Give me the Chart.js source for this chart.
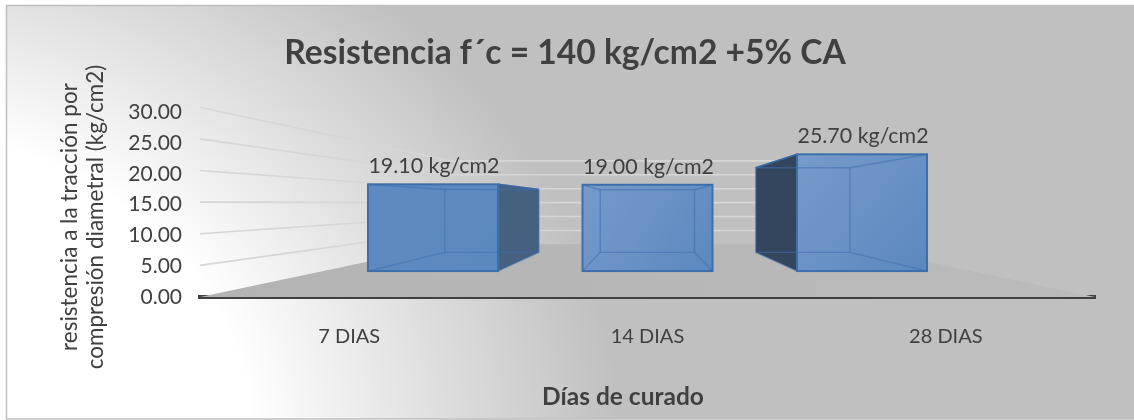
<!DOCTYPE html>
<html>
<head>
<meta charset="utf-8">
<title>Resistencia f´c = 140 kg/cm2 +5% CA</title>
<script src="https://cdn.jsdelivr.net/npm/chart.js@4"></script>
<style>
    html, body { margin: 0; padding: 0; background: #ffffff; }
    #wrap { width: 1134px; height: 420px; position: relative; }
</style>
</head>
<body>
<div id="wrap"><canvas id="migrafica"></canvas></div>
<script>
const categories = ["7 DIAS", "14 DIAS", "28 DIAS"];
const resistencia = [19.10, 19.00, 25.70];
const yTicks = [0, 5, 10, 15, 20, 25, 30];

const titulo = "Resistencia f´c = 140 kg/cm2 +5% CA";
const tituloY = ["resistencia a la tracción por", "compresión diametral (kg/cm2)"];
const tituloX = "Días de curado";
const unidad = " kg/cm2";

const FUENTE = "Lato";
const TEXTO = "#404040";

// punto de fuga y profundidades de la vista 3D
const fuga = { x: 647, y: 203 };
const fondoBarra = 0.725;
const fondoPared = 0.44;

function proyectar(x, y, s) {
    return { x: fuga.x + (x - fuga.x) * s, y: fuga.y + (y - fuga.y) * s };
}

function poligono(ctx, puntos, relleno) {
    ctx.beginPath();
    puntos.forEach(function (p, i) {
        if (i === 0) ctx.moveTo(p.x, p.y); else ctx.lineTo(p.x, p.y);
    });
    ctx.closePath();
    ctx.fillStyle = relleno;
    ctx.fill();
}

function linea(ctx, a, b) {
    ctx.beginPath();
    ctx.moveTo(a.x, a.y);
    ctx.lineTo(b.x, b.y);
    ctx.stroke();
}

// fondo degradado, piso, lineas de la pared y titulos de los ejes
const escena = {
    id: "escena",
    beforeDraw: function (chart) {
        const ctx = chart.ctx;
        const w = chart.width, h = chart.height;
        ctx.save();
        ctx.fillStyle = "#ffffff";
        ctx.fillRect(0, 0, w, h);

        ctx.beginPath();
        ctx.rect(7, 6, w - 7, h - 7);
        ctx.clip();
        ctx.translate(-150, 440);
        ctx.scale(770, 610);
        const g = ctx.createRadialGradient(0, 0, 0, 0, 0, 1);
        g.addColorStop(0, "#ffffff");
        g.addColorStop(0.52, "#ffffff");
        g.addColorStop(1, "#c0c0c0");
        ctx.fillStyle = g;
        ctx.fillRect(0, -1, 2, 1.1);
        ctx.restore();

        ctx.save();
        ctx.strokeStyle = "#bfbfbf";
        ctx.lineWidth = 1.5;
        ctx.beginPath();
        ctx.moveTo(w, 5.5);
        ctx.lineTo(6.5, 5.5);
        ctx.lineTo(6.5, 419);
        ctx.lineTo(w, 419);
        ctx.stroke();
        ctx.restore();
    },
    beforeDatasetsDraw: function (chart) {
        const ctx = chart.ctx;
        const area = chart.chartArea;
        const pared = chart.scales.yPared;

        ctx.save();
        const pisoA = { x: area.left, y: area.bottom };
        const pisoB = { x: area.right, y: area.bottom };
        const piso = ctx.createLinearGradient(area.left, 0, area.right, 0);
        piso.addColorStop(0, "#b3b3b3");
        piso.addColorStop(1, "#bbbbbb");
        poligono(ctx, [pisoA, proyectar(pisoA.x, pisoA.y, fondoPared), proyectar(pisoB.x, pisoB.y, fondoPared), pisoB], piso);

        ctx.strokeStyle = "#d6d6d6";
        ctx.lineWidth = 1.6;
        yTicks.forEach(function (v) {
            if (v === 0) return;
            const a = { x: area.left, y: pared.getPixelForValue(v) };
            const b = proyectar(a.x, a.y, fondoPared);
            const c = proyectar(area.right, a.y, fondoPared);
            linea(ctx, a, b);
            linea(ctx, b, c);
        });

        // caras laterales que asoman fuera del frente de cada barra
        chart.getDatasetMeta(0).data.forEach(function (bar) {
            const mitad = bar.width / 2;
            const i = { x: bar.x - mitad, y: bar.y };
            const d = { x: bar.x + mitad, y: bar.y };
            const ib = { x: bar.x - mitad, y: bar.base };
            const db = { x: bar.x + mitad, y: bar.base };
            const fi = proyectar(i.x, i.y, fondoBarra), fib = proyectar(ib.x, ib.y, fondoBarra);
            const fd = proyectar(d.x, d.y, fondoBarra), fdb = proyectar(db.x, db.y, fondoBarra);
            if (fi.x < i.x) {
                poligono(ctx, [i, fi, fib, ib], "#33465e");
                ctx.strokeStyle = "#2f6099";
                ctx.lineWidth = 1.5;
                linea(ctx, i, fi);
            }
            if (fd.x > d.x) {
                poligono(ctx, [d, fd, fdb, db], "#46617f");
                ctx.strokeStyle = "#3a6494";
                ctx.lineWidth = 1.5;
                linea(ctx, d, fd);
            }
        });
        ctx.restore();
    },
    afterDatasetsDraw: function (chart) {
        const ctx = chart.ctx;
        const meta = chart.getDatasetMeta(0);
        ctx.save();
        meta.data.forEach(function (bar, n) {
            const mitad = bar.width / 2;
            const esquinas = [
                { x: bar.x - mitad, y: bar.y },
                { x: bar.x + mitad, y: bar.y },
                { x: bar.x + mitad, y: bar.base },
                { x: bar.x - mitad, y: bar.base }
            ];
            const fondo = esquinas.map(function (p) { return proyectar(p.x, p.y, fondoBarra); });

            // brillo del frente, mas fuerte hacia la izquierda y arriba
            const brillo = ctx.createLinearGradient(esquinas[0].x, esquinas[0].y, esquinas[2].x, esquinas[2].y);
            brillo.addColorStop(0, "rgba(255,255,255," + (n === 0 ? 0.02 : 0.16) + ")");
            brillo.addColorStop(1, "rgba(255,255,255,0)");
            ctx.fillStyle = brillo;
            ctx.fillRect(esquinas[0].x, esquinas[0].y, bar.width, bar.base - bar.y);

            ctx.strokeStyle = "rgba(64,112,175,0.55)";
            ctx.lineWidth = 1.4;
            ctx.beginPath();
            fondo.forEach(function (p, i) {
                if (i === 0) ctx.moveTo(p.x, p.y); else ctx.lineTo(p.x, p.y);
            });
            ctx.closePath();
            ctx.stroke();
            esquinas.forEach(function (p, i) { linea(ctx, p, fondo[i]); });

            ctx.strokeStyle = "#3f6fab";
            ctx.lineWidth = 2;
            ctx.strokeRect(esquinas[0].x, esquinas[0].y, bar.width, bar.base - bar.y);

            // etiqueta con el valor
            ctx.fillStyle = TEXTO;
            ctx.font = "21.4px " + FUENTE;
            ctx.textAlign = "center";
            ctx.textBaseline = "middle";
            ctx.fillText(resistencia[n].toFixed(2) + unidad, bar.x + 1, bar.y - 18);
        });
        ctx.restore();
    },
    afterDraw: function (chart) {
        const ctx = chart.ctx;
        ctx.save();
        ctx.fillStyle = TEXTO;
        ctx.textAlign = "center";
        ctx.textBaseline = "alphabetic";

        ctx.font = "bold 24.5px " + FUENTE;
        ctx.fillText(tituloX, 623, 405);

        ctx.translate(77, 217);
        ctx.rotate(-Math.PI / 2);
        ctx.font = "22.5px " + FUENTE;
        tituloY.forEach(function (t, i) { ctx.fillText(t, 0, i * 26); });
        ctx.restore();
    }
};

document.addEventListener("DOMContentLoaded", function () {

    let micanvas = document.getElementById("migrafica").getContext("2d");

    new Chart(micanvas, {
        type: "bar",
        data: {
            labels: categories,
            datasets: [
                {
                    label: "Resistencia",
                    xAxisID: "xBarra",
                    yAxisID: "yBarra",
                    data: resistencia.map(function (v, i) { return { x: i, y: v }; }),
                    backgroundColor: "#5c88c0",
                    barThickness: 130
                }
            ]
        },
        options: {
            responsive: true,
            maintainAspectRatio: false,
            animation: false,
            layout: { padding: { left: 35, right: 39 } },
            plugins: {
                legend: { display: false },
                tooltip: { enabled: false },
                title: {
                    display: true,
                    text: titulo,
                    color: TEXTO,
                    font: { family: FUENTE, size: 33.6, weight: "bold" },
                    padding: { top: 33, bottom: 39 }
                }
            },
            scales: {
                x: {
                    type: "category",
                    labels: categories,
                    grid: { display: false },
                    border: { color: "#404040", width: 4 },
                    ticks: { color: TEXTO, font: { family: FUENTE, size: 20 }, padding: 20, maxRotation: 0 },
                    afterFit: function (scale) { scale.height = 123; }
                },
                y: {
                    position: "left",
                    min: 0,
                    max: 30,
                    grid: { display: false },
                    border: { display: false },
                    afterBuildTicks: function (scale) {
                        scale.ticks = yTicks.map(function (v) { return { value: v }; });
                    },
                    ticks: {
                        color: TEXTO,
                        font: { family: FUENTE, size: 21 },
                        padding: 10,
                        callback: function (v) { return Number(v).toFixed(2); }
                    },
                    afterFit: function (scale) { scale.width = 165; }
                },
                // escalas ocultas del plano frontal de las barras y de la pared
                xBarra: {
                    type: "linear",
                    display: false,
                    offset: false,
                    min: -1.086,
                    max: 3.086
                },
                yBarra: {
                    display: false,
                    min: -5.71,
                    max: 34.95
                },
                yPared: {
                    display: false,
                    min: 0,
                    max: 29.2
                }
            }
        },
        plugins: [escena]
    });

});
</script>
</body>
</html>
